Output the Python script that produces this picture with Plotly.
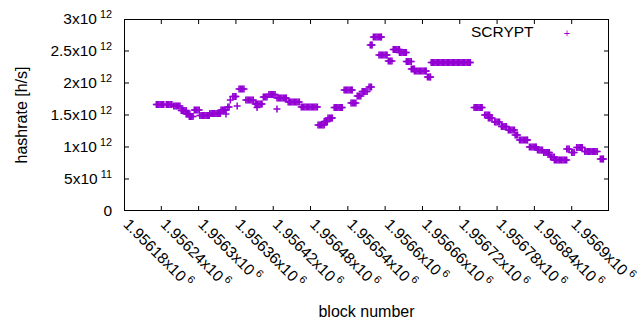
import plotly.graph_objects as go

# Runs of consecutive SCRYPT blocks: first block, last block, hashrate [h/s]
run_first_block = [1956232, 1956248, 1956260, 1956272, 1956280, 1956285, 1956293, 1956302, 1956318, 1956336,
                   1956344, 1956347, 1956351, 1956355, 1956362, 1956365, 1956376, 1956391, 1956394, 1956404,
                   1956413, 1956426, 1956426, 1956444, 1956465, 1956492, 1956502, 1956508, 1956518, 1956534,
                   1956545, 1956555, 1956563, 1956574, 1956576, 1956581, 1956590, 1956605, 1956613, 1956623,
                   1956634, 1956642, 1956647, 1956668, 1956674, 1956743, 1956760, 1956766, 1956776, 1956787,
                   1956798, 1956809, 1956816, 1956832, 1956845, 1956855, 1956866, 1956872, 1956892, 1956900,
                   1956908, 1956921, 1956946]
run_last_block = [1956244, 1956257, 1956270, 1956280, 1956286, 1956291, 1956301, 1956317, 1956335, 1956344,
                  1956344, 1956349, 1956351, 1956360, 1956362, 1956373, 1956388, 1956402, 1956394, 1956410,
                  1956423, 1956426, 1956441, 1956462, 1956491, 1956502, 1956507, 1956515, 1956531, 1956547,
                  1956553, 1956561, 1956571, 1956578, 1956579, 1956594, 1956603, 1956611, 1956623, 1956634,
                  1956642, 1956647, 1956666, 1956673, 1956737, 1956756, 1956768, 1956772, 1956784, 1956795,
                  1956808, 1956813, 1956829, 1956843, 1956853, 1956864, 1956872, 1956892, 1956896, 1956904,
                  1956917, 1956941, 1956951]
run_hashrate = [1.664e12, 1.664e12, 1.641e12, 1.570e12, 1.516e12, 1.477e12, 1.578e12, 1.492e12, 1.523e12, 1.578e12,
                1.516e12, 1.625e12, 1.734e12, 1.789e12, 1.641e12, 1.906e12, 1.734e12, 1.672e12, 1.617e12, 1.781e12,
                1.820e12, 1.594e12, 1.766e12, 1.703e12, 1.625e12, 1.344e12, 1.398e12, 1.453e12, 1.617e12, 1.891e12,
                1.688e12, 1.797e12, 1.867e12, 1.938e12, 2.594e12, 2.719e12, 2.438e12, 2.344e12, 2.523e12, 2.477e12,
                2.336e12, 2.219e12, 2.188e12, 2.094e12, 2.320e12, 1.617e12, 1.500e12, 1.453e12, 1.391e12, 1.320e12,
                1.266e12, 1.188e12, 1.109e12, 1.000e12, 0.953e12, 0.914e12, 0.844e12, 0.797e12, 0.969e12, 0.914e12,
                0.992e12, 0.930e12, 0.8125e12]

x_range = [1956180, 1956960]
y_range = [0, 3e12]
x_tick_vals = [1956180, 1956240, 1956300, 1956360, 1956420, 1956480, 1956540,
               1956600, 1956660, 1956720, 1956780, 1956840, 1956900, 1956960]
x_tick_mantissa = ["1.95618", "1.95624", "1.9563", "1.95636", "1.95642", "1.95648", "1.95654",
                   "1.9566", "1.95666", "1.95672", "1.95678", "1.95684", "1.9569", "1.95696"]
y_tick_vals = [0, 5e11, 1e12, 1.5e12, 2e12, 2.5e12, 3e12]
y_tick_labels = ["0", "5x10<sup> 11</sup>", "1x10<sup> 12</sup>", "1.5x10<sup> 12</sup>",
                 "2x10<sup> 12</sup>", "2.5x10<sup> 12</sup>", "3x10<sup> 12</sup>"]
series_name = "SCRYPT"

# expand runs into individual block points (every other block)
blocks, hashrate = [], []
for b0, b1, v in zip(run_first_block, run_last_block, run_hashrate):
    b = b0
    while b < b1:
        blocks.append(b)
        hashrate.append(v)
        b += 2
    blocks.append(b1)
    hashrate.append(v)

FONT = "Liberation Sans, Arial, sans-serif"
COLOR = "#9400d3"
TICK_FONT = dict(family=FONT, size=15.5, color="black")
TITLE_FONT = dict(family=FONT, size=16, color="black")
PLOT_W, PLOT_H, TICK_PX = 485, 192, 5

fig = go.Figure()
fig.add_trace(go.Scatter(
    x=blocks, y=hashrate, mode="markers", name=series_name,
    marker=dict(symbol="cross-thin", size=5, color=COLOR, line=dict(color=COLOR, width=1.5)),
))

# gnuplot-style border box around the plot area, at the axis range limits
fig.add_trace(go.Scatter(
    x=[x_range[0], x_range[1], x_range[1], x_range[0], x_range[0]],
    y=[y_range[0], y_range[0], y_range[1], y_range[1], y_range[0]],
    mode="lines", line=dict(color="black", width=2), hoverinfo="skip", showlegend=False,
))

# inside tick marks, mirrored on all four sides, at the tick values
x_len = (x_range[1] - x_range[0]) * TICK_PX / PLOT_W
y_len = (y_range[1] - y_range[0]) * TICK_PX / PLOT_H
tx, ty = [], []
for xv in x_tick_vals[1:-1]:
    tx += [xv, xv, None, xv, xv, None]
    ty += [y_range[0], y_range[0] + y_len, None, y_range[1], y_range[1] - y_len, None]
for yv in y_tick_vals[1:-1]:
    tx += [x_range[0], x_range[0] + x_len, None, x_range[1], x_range[1] - x_len, None]
    ty += [yv, yv, None, yv, yv, None]
fig.add_trace(go.Scatter(x=tx, y=ty, mode="lines", line=dict(color="black", width=1),
                         hoverinfo="skip", showlegend=False))

# gnuplot-style key: label followed by the point sample
key_text = series_name + "\u00a0" * 7 + '<span style="color:%s;font-size:11px">+</span>' % COLOR

fig.update_layout(
    width=640, height=330,
    margin=dict(l=124, r=31, t=19, b=119, autoexpand=False),
    paper_bgcolor="white", plot_bgcolor="white",
    font=dict(family=FONT, size=15.5, color="black"),
    showlegend=False,
    title=dict(text=key_text, x=471 / 640, xanchor="left", xref="container",
               y=1 - 31.5 / 330, yanchor="middle", yref="container", font=TICK_FONT),
)
fig.update_xaxes(range=x_range, tickvals=x_tick_vals,
                 ticktext=[m + "x10<sup> 6</sup>" for m in x_tick_mantissa], tickangle=45,
                 ticklabelshift=4, showgrid=False, zeroline=False, showline=False, ticks="",
                 automargin=False, tickfont=TICK_FONT,
                 title=dict(text="block number", font=TITLE_FONT, standoff=15))
fig.update_yaxes(range=y_range, tickvals=y_tick_vals, ticktext=y_tick_labels,
                 ticklabelstandoff=11, showgrid=False, zeroline=False, showline=False, ticks="",
                 automargin=False, tickfont=TICK_FONT,
                 title=dict(text="hashrate [h/s]", font=TITLE_FONT, standoff=18))

fig.write_html("out.html", config={"displayModeBar": False},
               post_script="document.body.style.margin='0px';")
